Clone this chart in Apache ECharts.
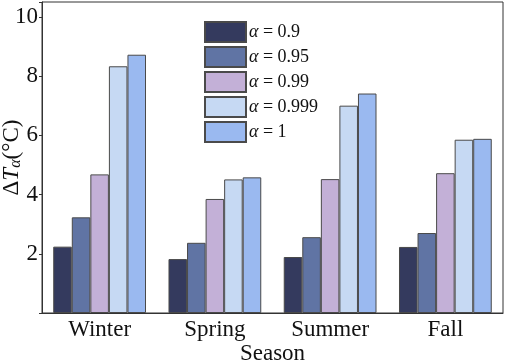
<!DOCTYPE html>
<html><head><meta charset="utf-8">
<script src="https://cdn.jsdelivr.net/npm/echarts@6/dist/echarts.min.js"></script>
<style>html,body{margin:0;padding:0;background:#fff}#c{width:505px;height:364px}</style>
</head><body><div id="c"></div>
<script>
const categories = ['Winter', 'Spring', 'Summer', 'Fall'];
const seriesNames = ['0.9', '0.95', '0.99', '0.999', '1'];
const alpha09 = [2.24, 1.82, 1.89, 2.23];
const alpha095 = [3.23, 2.37, 2.56, 2.70];
const alpha099 = [4.68, 3.85, 4.52, 4.72];
const alpha0999 = [8.33, 4.51, 7.00, 5.85];
const alpha1 = [8.72, 4.58, 7.41, 5.88];
const yTicks = [2, 4, 6, 8, 10];
const colors = ['#343a5e', '#6074a4', '#c3b0d7', '#c6d9f3', '#9ab9f0'];
const values = [alpha09, alpha095, alpha099, alpha0999, alpha1];
const F = 'Liberation Serif';
const chart = echarts.init(document.getElementById('c'));
chart.setOption({
  animation: false,
  textStyle: {fontFamily: F},
  grid: {left: 42, right: 2, top: 2, bottom: 51, show: true, borderColor: '#333', borderWidth: 1,
    containLabel: false, outerBoundsMode: 'none'},
  legend: {
    orient: 'vertical', left: 199, top: 16, itemWidth: 41, itemHeight: 20, itemGap: 3,
    icon: 'rect',
    data: seriesNames.map(n => 'α = ' + n),
    formatter: n => '{a|α} = ' + n.slice(4),
    textStyle: {fontFamily: F, fontSize: 18, color: '#111', padding: [0,0,0,-2],
      rich: {a: {fontFamily: F, fontStyle: 'italic', fontSize: 18, color: '#111'}}}
  },
  xAxis: {
    type: 'category', data: categories,
    name: 'Season', nameLocation: 'middle', nameGap: 29, nameMoveOverlap: false,
    nameTextStyle: {fontFamily: F, fontSize: 23, color: '#111', verticalAlign: 'top'},
    axisLine: {lineStyle: {color: '#333'}},
    axisTick: {alignWithLabel: true, length: 3, lineStyle: {color: '#333'}},
    axisLabel: {fontFamily: F, fontSize: 23, color: '#111', margin: 5}
  },
  yAxis: {
    type: 'value', min: 0, max: 10.5, interval: 2,
    name: '{n|Δ}{t|T}{s|α}{n|(°C)}', nameLocation: 'middle', nameGap: 18, nameRotate: 90,
    nameMoveOverlap: false,
    nameTextStyle: {fontFamily: F, fontSize: 23, color: '#111',
      rich: {
        n: {fontFamily: F, fontSize: 23, color: '#111'},
        t: {fontFamily: F, fontSize: 23, fontStyle: 'italic', color: '#111'},
        s: {fontFamily: F, fontSize: 16, fontStyle: 'italic', color: '#111', verticalAlign: 'bottom', padding: [8,0,0,0]}
      }},
    splitLine: {show: false},
    axisLine: {show: true, lineStyle: {color: '#333'}},
    axisTick: {show: true, length: 3, lineStyle: {color: '#333'}},
    axisLabel: {fontFamily: F, fontSize: 23, color: '#111', margin: 4,
      formatter: v => yTicks.includes(v) ? String(v) : ''}
  },
  series: values.map((d, i) => ({
    name: 'α = ' + seriesNames[i], type: 'bar', data: d,
    barGap: '0%', barCategoryGap: '19.5%',
    itemStyle: {color: colors[i], borderColor: '#4a4a4a', borderWidth: 1}
  }))
});
</script></body></html>
